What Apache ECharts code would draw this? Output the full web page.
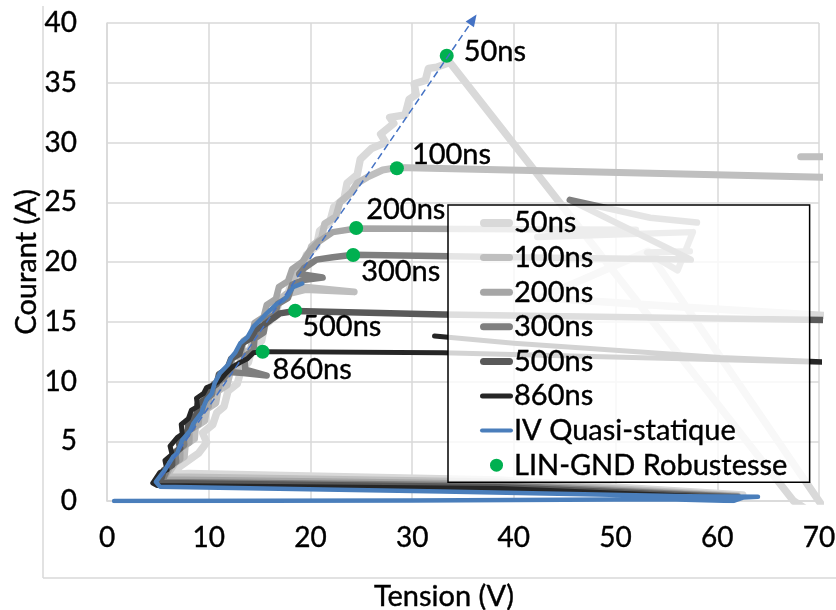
<!DOCTYPE html>
<html>
<head>
<meta charset="utf-8">
<script src="https://cdn.jsdelivr.net/npm/echarts@6/dist/echarts.min.js"></script>
<style>
  html, body { margin: 0; padding: 0; background: #ffffff; }
  #chart { width: 836px; height: 610px; }
</style>
</head>
<body>
<div id="chart"></div>
<script>
// TLP curves, [tension V, courant A], one list per pulse width
const tlp50 = [[62.5,0.5],[38.6,1.75],[8.0,2.3],[6.0,2.2],[7.2,2.9],[8.0,3.4],[9.0,4.0],[9.8,4.9],[9.4,5.7],[10.4,6.4],[10.8,7.4],[11.5,7.9],[11.9,9.2],[12.8,9.8],[13.2,11.0],[13.9,11.6],[14.3,12.9],[15.2,13.4],[15.5,14.7],[16.5,15.4],[16.9,16.6],[17.8,17.3],[18.2,18.6],[19.2,19.3],[19.6,20.6],[20.6,21.3],[20.9,22.6],[21.9,23.3],[22.3,24.6],[23.3,25.3],[23.6,26.6],[24.6,27.3],[24.9,28.6],[26.0,29.5],[27.4,30.0],[26.9,30.7],[28.2,31.6],[27.8,32.1],[29.3,32.3],[29.7,33.6],[30.4,34.0],[30.2,34.9],[31.3,35.2],[31.6,36.2],[32.4,36.3],[33.7,36.7],[67.5,0.0],[72.0,-2.5],[53.2,20.9],[42.6,17.0],[57.3,16.2],[75.0,15.3]];
const tlp100 = [[62.0,0.45],[38.6,1.6],[8.0,2.0],[5.8,2.0],[6.7,3.2],[7.6,3.7],[7.7,4.7],[8.6,5.2],[8.7,6.2],[9.6,6.7],[9.8,7.7],[10.7,8.2],[10.9,9.2],[11.8,9.7],[12.1,10.7],[13.0,11.2],[13.2,12.2],[14.1,12.7],[14.4,13.7],[15.3,14.2],[15.6,15.2],[16.5,15.7],[16.9,16.8],[17.6,17.3],[19.5,17.7],[24.3,17.5],[19.3,17.9],[18.3,18.4],[18.7,19.6],[19.7,20.2],[20.1,21.3],[21.1,22.0],[21.4,23.2],[22.5,23.8],[22.9,25.0],[24.0,25.8],[24.6,26.6],[25.6,27.1],[27.1,27.7],[28.5,27.9],[45.0,27.6],[75.0,27.0],[75.0,28.8],[68.2,28.8]];
const tlp200 = [[62.0,0.4],[38.6,1.45],[5.6,1.8],[6.3,3.0],[7.2,3.5],[7.2,4.4],[8.1,4.9],[8.1,5.9],[9.0,6.4],[9.1,7.4],[10.0,7.9],[10.1,8.9],[11.0,9.4],[11.2,10.4],[12.1,10.9],[12.3,11.9],[13.2,12.4],[13.4,13.4],[14.3,13.9],[14.5,14.9],[15.4,15.4],[15.7,16.4],[16.6,16.9],[16.9,17.9],[17.8,18.4],[18.2,19.4],[19.2,20.0],[19.9,20.9],[20.8,21.7],[22.2,22.5],[24.5,22.8],[52.0,22.7],[42.3,22.1],[57.6,22.5],[56.1,19.3],[53.1,20.8],[57.3,20.9]];
const tlp300 = [[62.0,0.35],[38.6,1.3],[5.4,1.6],[6.0,2.8],[6.8,3.3],[6.7,4.1],[7.6,4.7],[7.5,5.6],[8.4,6.1],[8.5,7.0],[9.3,7.5],[9.5,8.4],[10.3,8.9],[10.5,9.8],[11.4,10.2],[12.0,10.8],[13.4,10.7],[15.7,10.5],[13.6,11.0],[13.5,12.1],[14.4,12.6],[14.5,13.6],[15.4,14.1],[15.6,15.1],[16.5,15.6],[16.8,16.5],[17.8,17.0],[18.2,18.1],[19.3,18.5],[21.2,18.7],[18.9,19.0],[19.4,19.5],[20.6,20.2],[22.2,20.4],[24.2,20.6],[40.0,20.4],[57.4,20.2],[45.5,25.2],[53.4,23.7],[58.0,23.3]];
const tlp500 = [[62.0,0.3],[38.6,1.15],[5.2,1.5],[5.6,2.6],[6.4,3.0],[6.4,3.8],[7.2,4.4],[7.0,5.1],[7.9,5.6],[8.0,6.6],[8.8,7.2],[8.9,8.1],[9.7,8.5],[10.0,9.3],[10.8,9.8],[11.0,10.6],[11.8,11.0],[12.2,11.9],[13.0,12.3],[13.3,13.2],[14.1,13.6],[14.6,14.3],[15.7,14.9],[17.0,15.7],[18.5,15.9],[33.0,15.6],[75.0,15.1]];
const tlp860 = [[62.0,0.25],[38.6,1.05],[4.9,1.3],[4.5,1.5],[5.2,2.4],[5.9,2.6],[5.7,3.4],[6.4,3.9],[6.2,4.6],[6.9,5.3],[7.4,5.6],[7.3,6.4],[8.0,6.9],[8.3,7.6],[8.9,7.9],[8.8,8.6],[9.5,9.0],[9.8,9.5],[10.4,9.7],[11.1,10.1],[11.6,10.6],[12.3,11.2],[13.1,11.6],[13.8,11.9],[14.4,12.4],[15.3,12.5],[33.0,12.4],[75.0,11.5],[60.3,12.0],[40.0,13.2],[32.2,13.8]];
const ivQuasiStatique = [[0.7,0.0],[30.0,0.05],[55.0,0.15],[61.6,0.0],[62.6,0.3],[64.0,0.35],[57.0,0.4],[33.0,0.8],[5.2,1.2],[4.8,1.6],[5.7,2.6],[6.5,3.7],[6.9,4.0],[7.4,5.1],[8.2,5.9],[8.5,6.5],[9.3,7.4],[9.5,7.9],[9.8,8.5],[10.3,9.0],[10.6,9.9],[11.1,10.7],[11.9,11.4],[12.2,12.0],[12.6,12.4],[13.1,13.2],[13.8,13.7],[14.4,14.6],[15.0,15.1],[15.7,15.7],[16.7,16.5],[17.3,16.8],[17.7,17.1],[18.3,17.9],[19.2,18.2]];

// failure points (LIN-GND robustness) and their pulse-width labels
const robustLabels = ['50ns', '100ns', '200ns', '300ns', '500ns', '860ns'];
const robustV = [33.4, 28.5, 24.5, 24.2, 18.5, 15.3];
const robustI = [37.26, 27.84, 22.85, 20.59, 15.93, 12.49];

// dashed trend arrow: start and head
const guideStart = [5.3, 2.0];
const guideEnd = [36.0, 40.3];

// axis ranges
const xMin = 0, xMax = 70, xStep = 10;
const yMin = 0, yMax = 40, yStep = 5;

const seriesNames = ['50ns', '100ns', '200ns', '300ns', '500ns', '860ns'];
const tlpData = [tlp50, tlp100, tlp200, tlp300, tlp500, tlp860];
const tlpColors = ['#d9d9d9', '#bfbfbf', '#a6a6a6', '#7f7f7f', '#595959', '#262626'];
const tlpWidths = [7.5, 7, 6.5, 6.5, 6.5, 5];
const labelOffsets = [[10, -4], [8, -14], [3, -18], [1, 17], [0, 16], [3, 18]];

const FONT = 'Lato';
const GRID_COLOR = '#d9d9d9';
const TEXT = { fontFamily: FONT, color: '#000', textBorderColor: '#000', textBorderWidth: 0.4 };

// rounded bar used as the legend swatch of a line series
function barIcon(h) {
  const r = h / 2, w = 33;
  return 'path://M' + r + ',0 h' + (w - h) + ' a' + r + ',' + r + ' 0 0 1 0,' + h +
         ' h-' + (w - h) + ' a' + r + ',' + r + ' 0 0 1 0,-' + h + ' z';
}

const chart = echarts.init(document.getElementById('chart'), null, { renderer: 'canvas' });

const series = tlpData.map((d, i) => ({
  type: 'line',
  name: seriesNames[i],
  data: d,
  symbol: 'none',
  clip: true,
  lineStyle: { color: tlpColors[i], width: tlpWidths[i], cap: 'round', join: 'round' },
  itemStyle: { color: tlpColors[i] },
  z: 2
}));

series.push({
  type: 'line',
  name: 'IV Quasi-statique',
  data: ivQuasiStatique,
  symbol: 'none',
  clip: true,
  lineStyle: { color: '#4a7ebb', width: 4.5, cap: 'round', join: 'round' },
  itemStyle: { color: '#4a7ebb' },
  z: 3
});

series.push({
  type: 'scatter',
  name: 'LIN-GND Robustesse',
  data: robustV.map((v, i) => ({
    value: [v, robustI[i]],
    label: { offset: labelOffsets[i] }
  })),
  symbol: 'circle',
  symbolSize: 14,
  itemStyle: { color: '#00b050', opacity: 1 },
  label: Object.assign({
    show: true,
    position: 'right',
    distance: 0,
    formatter: p => robustLabels[p.dataIndex],
    fontSize: 29
  }, TEXT),
  z: 6
});

series.push({
  id: 'guide',
  type: 'line',
  name: 'guide',
  data: [guideStart, { value: guideEnd, symbol: 'triangle', symbolSize: [10, 12], symbolRotate: 0 }],
  symbol: 'none',
  showSymbol: true,
  clip: false,
  silent: true,
  lineStyle: { color: '#4472c4', width: 1.5, type: [7, 4] },
  itemStyle: { color: '#4472c4' },
  z: 7
});

const legendItems = seriesNames.map((n, i) => ({ name: n, icon: barIcon(Math.round(tlpWidths[i])) }))
  .concat([{ name: 'IV Quasi-statique', icon: barIcon(4) }, { name: 'LIN-GND Robustesse', icon: 'circle' }]);

const option = {
  animation: false,
  backgroundColor: '#ffffff',
  textStyle: { fontFamily: FONT },
  grid: { left: 107, right: 17, top: 23, bottom: 109, outerBoundsMode: 'none' },
  xAxis: {
    type: 'value',
    min: xMin, max: xMax, interval: xStep,
    axisLine: { show: true, lineStyle: { color: GRID_COLOR, width: 1.5 } },
    axisTick: { show: false },
    splitLine: { show: true, lineStyle: { color: GRID_COLOR, width: 1.5 } },
    axisLabel: Object.assign({ fontSize: 28, margin: 23 }, TEXT),
    name: 'Tension (V)',
    nameLocation: 'middle',
    nameGap: 81,
    nameMoveOverlap: false,
    nameTextStyle: Object.assign({ fontSize: 29, padding: [0, 38, 0, 0] }, TEXT)
  },
  yAxis: {
    type: 'value',
    min: yMin, max: yMax, interval: yStep,
    axisLine: { show: true, lineStyle: { color: GRID_COLOR, width: 1.5 } },
    axisTick: { show: false },
    splitLine: { show: true, lineStyle: { color: GRID_COLOR, width: 1.5 } },
    axisLabel: Object.assign({ fontSize: 28, margin: 30 }, TEXT),
    name: 'Courant (A)',
    nameLocation: 'middle',
    nameRotate: 90,
    nameGap: 66,
    nameMoveOverlap: false,
    nameTextStyle: Object.assign({ fontSize: 29 }, TEXT)
  },
  legend: {
    data: legendItems,
    orient: 'vertical',
    left: 448,
    top: 205,
    itemWidth: 33,
    itemHeight: 13,
    itemGap: 4.6,
    padding: [3, 22, 2, 32],
    selectedMode: false,
    backgroundColor: 'rgba(255,255,255,0.8)',
    borderColor: '#000000',
    borderWidth: 1.5,
    itemStyle: { borderWidth: 0 },
    lineStyle: { width: 0 },
    textStyle: Object.assign({ fontSize: 29, lineHeight: 30, padding: [0, 0, 0, -4] }, TEXT)
  },
  graphic: [
    { type: 'line', shape: { x1: 43, y1: 6, x2: 43, y2: 578 }, style: { stroke: GRID_COLOR, lineWidth: 1.5 }, silent: true },
    { type: 'line', shape: { x1: 43, y1: 578, x2: 836, y2: 578 }, style: { stroke: GRID_COLOR, lineWidth: 1.5 }, silent: true }
  ],
  series: series
};

chart.setOption(option);

// orient the arrow head along the dashed guide, in screen space
const a = chart.convertToPixel({ gridIndex: 0 }, guideStart);
const b = chart.convertToPixel({ gridIndex: 0 }, guideEnd);
const angle = Math.atan2(b[0] - a[0], a[1] - b[1]) * 180 / Math.PI;
chart.setOption({
  series: [{
    id: 'guide',
    data: [guideStart, { value: guideEnd, symbol: 'triangle', symbolSize: [10, 12], symbolRotate: -angle }]
  }]
});
</script>
</body>
</html>
